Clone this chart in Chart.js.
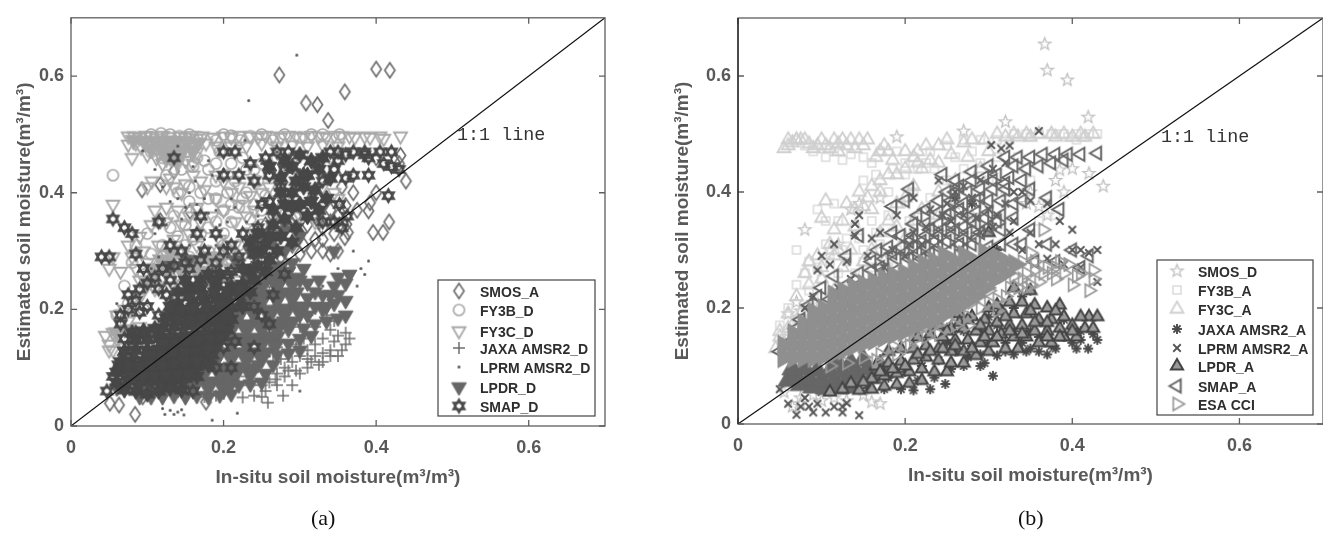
<!DOCTYPE html>
<html>
<head>
<meta charset="utf-8">
<title>Soil moisture scatter</title>
<script src="https://cdn.jsdelivr.net/npm/chart.js@4"></script>
<style>
html, body { margin: 0; padding: 0; background: #fff; overflow: hidden; }
.wrap { position: absolute; top: 0; height: 535px; }
.cap { position: absolute; top: 505px; font: 22px "Liberation Serif", serif; color: #111; }
</style>
</head>
<body>
<div class="wrap" style="left:0;width:660px"><canvas id="chartA" width="660" height="535"></canvas></div>
<div class="wrap" style="left:660px;width:700px"><canvas id="chartB" width="700" height="535"></canvas></div>
<div class="cap" style="left:311px">(a)</div>
<div class="cap" style="left:1018px">(b)</div>
<script>
// axis
var tickValues = [0, 0.2, 0.4, 0.6];
var tickLabels = ["0", "0.2", "0.4", "0.6"];
var xTitle = "In-situ soil moisture(m³/m³)";
var yTitle = "Estimated soil moisture(m³/m³)";
var oneToOne = [[0, 0], [0.7, 0.7]];

// panel (a)
var smosA = [[.273,.602],[.308,.554],[.323,.551],[.337,.524],[.40,.612],[.418,.61],[.359,.573],[.432,.464],[.439,.42],[.392,.383],[.39,.369],[.417,.35],[.409,.332],[.396,.332],[.361,.346],[.363,.332],[.359,.323],[.36,.378],[.051,.039],[.063,.036],[.084,.02],[.177,.041],[.094,.05],[.093,.405],[.117,.414],[.135,.437],[.156,.368],[.117,.352],[.33,.30],[.345,.44],[.43,.45],[.40,.40],[.375,.37],[.35,.36],[.34,.35],[.33,.38],[.32,.36],[.31,.345],[.30,.33],[.29,.31],[.28,.335],[.27,.32],[.26,.30],[.255,.345],[.265,.36],[.285,.365],[.30,.38],[.315,.39],[.33,.34],[.345,.33],[.35,.30],[.34,.295],[.32,.32],[.305,.31],[.29,.345],[.275,.29],[.25,.27],[.24,.31],[.26,.25],[.37,.40],[.355,.41],[.31,.44],[.40,.46],[.31,.36],[.325,.35],[.34,.37],[.352,.345],[.295,.36],[.28,.35],[.27,.345],[.30,.295],[.315,.30],[.33,.32]];
var fy3bD = [[.105,.50],[.118,.502],[.13,.50],[.142,.497],[.155,.50],[.17,.495],[.19,.49],[.20,.50],[.21,.498],[.222,.49],[.235,.497],[.25,.50],[.265,.49],[.28,.50],[.30,.495],[.315,.50],[.33,.50],[.352,.50],[.055,.43],[.105,.47],[.12,.46],[.135,.455],[.15,.47],[.165,.46],[.18,.44],[.145,.44],[.125,.43],[.195,.47],[.21,.45],[.225,.46],[.24,.44],[.19,.42],[.205,.40],[.215,.42],[.23,.40],[.245,.42],[.26,.43],[.28,.44],[.20,.37],[.22,.375],[.235,.355],[.25,.37],[.265,.385],[.18,.39],[.165,.37],[.15,.345],[.135,.36],[.115,.35],[.10,.33],[.085,.31],[.105,.295],[.12,.31],[.14,.325],[.16,.32],[.18,.34],[.20,.33],[.22,.31],[.24,.335],[.26,.33],[.08,.28],[.095,.26],[.115,.275],[.135,.285],[.155,.29],[.175,.28],[.195,.30],[.07,.24],[.09,.23],[.11,.24],[.13,.255],[.15,.25],[.17,.25],[.06,.19],[.075,.21],[.095,.20],[.16,.445],[.175,.455],[.19,.45],[.205,.43],[.23,.44],[.25,.45],[.27,.46],[.29,.46],[.17,.40],[.155,.41],[.14,.40],[.19,.39],[.21,.38],[.225,.39],[.24,.38],[.255,.395],[.155,.385],[.13,.34],[.15,.31],[.17,.33],[.19,.35],[.21,.35],[.23,.33],[.25,.345],[.12,.29],[.14,.30],[.16,.275],[.18,.30],[.20,.31]];
var fy3cD = [[.075,.497],[.083,.497],[.09,.495],[.098,.498],[.105,.497],[.112,.494],[.12,.498],[.128,.496],[.135,.49],[.143,.497],[.15,.495],[.158,.498],[.165,.493],[.172,.497],[.187,.495],[.2,.497],[.21,.495],[.22,.498],[.235,.497],[.245,.495],[.255,.498],[.265,.497],[.275,.495],[.285,.498],[.295,.497],[.305,.495],[.315,.498],[.325,.497],[.335,.495],[.345,.498],[.355,.497],[.365,.497],[.372,.495],[.385,.497],[.392,.495],[.405,.497],[.41,.493],[.432,.497],[.075,.483],[.08,.46],[.092,.478],[.105,.485],[.115,.47],[.125,.48],[.135,.475],[.145,.47],[.155,.48],[.13,.46],[.15,.455],[.165,.47],[.177,.485],[.19,.48],[.21,.48],[.23,.48],[.25,.485],[.27,.48],[.29,.482],[.31,.48],[.33,.482],[.35,.48],[.37,.47],[.055,.38],[.106,.42],[.13,.425],[.10,.41],[.135,.41],[.145,.40],[.16,.43],[.17,.42],[.19,.43],[.2,.42],[.22,.41],[.24,.42],[.25,.40],[.26,.41],[.11,.37],[.125,.375],[.14,.37],[.155,.36],[.17,.35],[.185,.36],[.2,.37],[.215,.35],[.23,.36],[.09,.325],[.075,.31],[.08,.29],[.055,.29],[.065,.265],[.05,.27],[.095,.30],[.115,.31],[.135,.32],[.155,.33],[.175,.30],[.195,.32],[.215,.31],[.235,.30],[.255,.32],[.11,.27],[.13,.28],[.15,.27],[.17,.26],[.19,.27],[.21,.28],[.23,.27],[.09,.25],[.11,.235],[.13,.24],[.15,.23],[.07,.20],[.09,.22],[.06,.19],[.05,.14],[.055,.16],[.07,.165],[.09,.17],[.06,.15],[.08,.15],[.055,.13],[.07,.135],[.33,.41],[.345,.40],[.35,.39],[.31,.38],[.30,.36],[.32,.35],[.28,.39],[.27,.37],[.085,.485],[.10,.465],[.112,.46],[.14,.45],[.12,.45],[.16,.45],[.125,.41],[.15,.415],[.175,.405],[.21,.40],[.235,.395],[.125,.35],[.145,.345],[.165,.375],[.19,.39],[.22,.38],[.24,.37],[.105,.345],[.125,.295],[.145,.30],[.165,.31],[.185,.29],[.205,.30],[.225,.29],[.1,.28],[.12,.255],[.14,.26],[.16,.25],[.18,.255],[.2,.26],[.085,.27],[.105,.25],[.125,.225],[.14,.22],[.16,.22],[.18,.235],[.2,.24],[.22,.25],[.075,.18],[.08,.215],[.065,.175],[.045,.155],[.05,.13],[.28,.45],[.3,.43],[.32,.45],[.34,.46]];
// the solid wedge under the 0.5 ceiling and the grey patch around (0.15, 0.27)
var fy3cSolidD = [[.082,.49],[.096,.488],[.11,.488],[.124,.488],[.138,.487],[.152,.488],[.166,.485],[.105,.475],[.119,.474],[.133,.472],[.147,.474],[.16,.472],[.125,.46],[.14,.458],[.105,.27],[.118,.285],[.132,.295],[.148,.285],[.165,.28],[.18,.29],[.195,.285],[.21,.27],[.125,.265],[.145,.265],[.165,.265],[.185,.265],[.205,.255],[.10,.245],[.075,.165],[.06,.16]];
var jaxaD = [[.225,.049],[.24,.052],[.258,.04],[.25,.05],[.278,.052],[.27,.07],[.29,.07],[.30,.09],[.31,.10],[.32,.12],[.29,.11],[.28,.10],[.33,.15],[.34,.13],[.36,.14],[.35,.155],[.365,.15],[.345,.145],[.33,.125],[.355,.13],[.31,.13],[.30,.12],[.32,.14],[.34,.165],[.36,.16],[.27,.09],[.26,.075],[.25,.07],[.235,.07],[.28,.085],[.295,.095],[.315,.11],[.33,.11],[.35,.12],[.305,.15],[.295,.14],[.32,.17],[.345,.18],[.335,.19],[.31,.19],[.30,.17],[.275,.115],[.265,.11],[.285,.13],[.27,.135],[.26,.13],[.25,.12],[.24,.10],[.23,.085],[.22,.07],[.21,.06],[.20,.055],[.19,.052],[.175,.05],[.325,.105],[.34,.12],[.285,.095],[.255,.06],[.268,.08],[.31,.115]];
var lprmD = [[.296,.636],[.233,.558],[.228,.49],[.18,.455],[.14,.48],[.094,.472],[.11,.44],[.163,.42],[.175,.39],[.14,.39],[.15,.375],[.19,.37],[.21,.39],[.17,.35],[.205,.35],[.22,.33],[.125,.345],[.13,.32],[.155,.31],[.19,.31],[.245,.36],[.24,.33],[.13,.30],[.17,.29],[.205,.29],[.225,.28],[.105,.27],[.12,.26],[.14,.24],[.165,.25],[.08,.23],[.06,.21],[.07,.12],[.08,.19],[.38,.27],[.39,.283],[.385,.26],[.375,.24],[.123,.02],[.13,.027],[.135,.02],[.14,.024],[.145,.028],[.148,.019],[.185,.01],[.218,.022],[.30,.06],[.12,.03],[.26,.12],[.31,.21],[.33,.24],[.35,.27],[.37,.30],[.28,.40],[.30,.44],[.25,.45],[.27,.47],[.31,.47],[.20,.44],[.185,.43],[.12,.41],[.13,.385],[.155,.40],[.18,.365],[.195,.345],[.215,.375],[.23,.35],[.145,.355],[.16,.335],[.175,.32],[.20,.31],[.15,.285],[.185,.27],[.115,.29],[.24,.29],[.16,.445],[.21,.47],[.165,.38],[.11,.33]];
var lpdrCoreD = [[.10,.072],[.12,.07],[.14,.072],[.16,.07],[.18,.072],[.20,.07],[.21,.082],[.075,.09],[.095,.095],[.115,.095],[.135,.097],[.155,.095],[.175,.097],[.195,.095],[.215,.097],[.235,.095],[.11,.12],[.13,.12],[.15,.12],[.17,.122],[.19,.12],[.21,.122],[.23,.12],[.25,.122],[.13,.145],[.15,.145],[.17,.147],[.19,.145],[.21,.147],[.23,.145],[.25,.147],[.265,.15],[.17,.17],[.19,.17],[.21,.172],[.23,.17],[.25,.172],[.27,.172],[.285,.175],[.20,.195],[.22,.195],[.24,.197],[.26,.195],[.28,.197],[.30,.20],[.23,.22],[.25,.22],[.27,.222],[.29,.225],[.25,.245],[.27,.245],[.29,.25],[.27,.27]];
var lpdrD = [[.09,.05],[.105,.05],[.12,.05],[.135,.052],[.15,.05],[.165,.052],[.18,.05],[.195,.053],[.21,.055],[.22,.07],[.235,.072],[.25,.075],[.255,.09],[.245,.105],[.265,.105],[.27,.122],[.285,.125],[.30,.13],[.27,.14],[.285,.142],[.30,.15],[.315,.155],[.305,.168],[.32,.175],[.335,.18],[.35,.185],[.36,.19],[.31,.19],[.33,.20],[.345,.21],[.36,.215],[.345,.24],[.36,.245],[.365,.26],[.35,.255],[.33,.225],[.32,.23],[.30,.205],[.31,.245],[.30,.25],[.305,.27],[.29,.28],[.28,.30],[.23,.25],[.235,.30],[.155,.285],[.25,.33],[.30,.325],[.345,.30],[.10,.16],[.06,.065],[.075,.08],[.32,.205],[.34,.225],[.325,.25],[.31,.22],[.335,.205],[.35,.225],[.285,.265],[.13,.275],[.185,.25],[.265,.32],[.28,.335],[.24,.27],[.215,.285]];
var smapCoreD = [[.07,.062],[.085,.06],[.10,.055],[.115,.06],[.13,.065],[.145,.062],[.06,.075],[.075,.078],[.09,.076],[.105,.077],[.12,.08],[.135,.08],[.15,.082],[.165,.085],[.06,.092],[.075,.095],[.09,.093],[.105,.095],[.12,.097],[.135,.098],[.15,.10],[.165,.102],[.18,.105],[.065,.11],[.08,.112],[.095,.112],[.11,.113],[.125,.114],[.14,.116],[.155,.118],[.17,.12],[.185,.122],[.07,.128],[.085,.13],[.10,.13],[.115,.132],[.13,.134],[.145,.134],[.16,.137],[.175,.14],[.19,.142],[.085,.147],[.10,.148],[.115,.15],[.13,.152],[.145,.153],[.16,.155],[.175,.157],[.19,.16],[.205,.165],[.12,.168],[.135,.17],[.15,.172],[.165,.175],[.18,.177],[.195,.18],[.21,.183],[.135,.19],[.15,.192],[.165,.194],[.18,.197],[.195,.20],[.21,.203],[.225,.205],[.14,.21],[.16,.213],[.175,.215],[.19,.218],[.205,.22],[.22,.222],[.235,.23],[.21,.24],[.225,.243],[.24,.25],[.255,.265],[.245,.275],[.26,.285],[.235,.265],[.27,.30],[.255,.31],[.275,.325],[.29,.315],[.265,.345],[.28,.355],[.295,.34],[.31,.36],[.30,.38],[.315,.385],[.325,.37],[.29,.40],[.305,.41],[.32,.405],[.335,.39],[.31,.43],[.325,.44],[.34,.425],[.315,.455],[.33,.46],[.29,.445],[.30,.465],[.25,.30],[.24,.295],[.26,.325],[.245,.33],[.235,.315],[.28,.38],[.265,.37],[.275,.40],[.29,.375],[.305,.43],[.275,.425],[.26,.445],[.28,.455],[.295,.42],[.225,.27],[.14,.23],[.155,.235],[.17,.235],[.13,.205],[.15,.25],[.17,.25],[.19,.24],[.195,.26],[.18,.26],[.11,.167],[.095,.163],[.08,.16],[.125,.185],[.14,.182],[.155,.183],[.172,.186],[.188,.188],[.205,.193],[.145,.20],[.16,.203],[.178,.206],[.195,.21],[.155,.222],[.172,.225],[.188,.23],[.205,.232],[.22,.235],[.12,.143],[.137,.143],[.152,.145],[.168,.147],[.183,.15],[.198,.153],[.105,.122],[.12,.123],[.135,.125],[.15,.127],[.165,.128],[.18,.132],[.075,.103],[.09,.103],[.105,.104],[.12,.105],[.135,.107],[.15,.109],[.165,.111],[.08,.085],[.095,.085],[.11,.086],[.125,.088],[.14,.09],[.155,.091]];
var smapD = [[.047,.06],[.055,.085],[.062,.105],[.08,.138],[.085,.16],[.115,.19],[.10,.205],[.125,.225],[.115,.235],[.095,.27],[.13,.25],[.165,.24],[.19,.245],[.205,.26],[.24,.205],[.25,.19],[.26,.175],[.20,.135],[.215,.145],[.19,.10],[.21,.10],[.16,.06],[.24,.135],[.265,.225],[.28,.26],[.04,.29],[.05,.29],[.08,.33],[.07,.34],[.055,.355],[.115,.35],[.13,.31],[.17,.36],[.19,.33],[.175,.30],[.135,.46],[.2,.47],[.215,.47],[.2,.43],[.22,.43],[.235,.45],[.24,.42],[.27,.47],[.285,.47],[.255,.46],[.26,.43],[.28,.44],[.275,.41],[.25,.38],[.26,.385],[.245,.34],[.225,.33],[.24,.31],[.21,.31],[.35,.47],[.36,.465],[.37,.47],[.385,.47],[.34,.47],[.35,.455],[.39,.46],[.405,.47],[.41,.45],[.42,.445],[.43,.44],[.345,.44],[.36,.425],[.37,.43],[.39,.43],[.352,.38],[.362,.36],[.345,.35],[.355,.34],[.33,.35],[.416,.395],[.33,.42],[.385,.465],[.42,.47],[.065,.19],[.075,.20],[.09,.195],[.085,.215],[.075,.225],[.09,.235],[.10,.245],[.11,.255],[.12,.27],[.135,.275],[.15,.28],[.085,.295],[.065,.175],[.07,.15],[.155,.27],[.17,.285],[.19,.28],[.21,.265],[.22,.29],[.20,.30],[.165,.33],[.145,.30]];

// panel (b)
var smosD = [[.367,.655],[.37,.61],[.394,.593],[.419,.529],[.32,.521],[.437,.41],[.42,.432],[.40,.44],[.385,.438],[.38,.42],[.39,.40],[.35,.40],[.36,.375],[.37,.36],[.345,.38],[.27,.505],[.19,.495],[.17,.39],[.135,.37],[.145,.38],[.08,.335],[.11,.30],[.12,.31],[.09,.21],[.075,.195],[.06,.19],[.07,.21],[.085,.07],[.10,.04],[.13,.04],[.16,.038],[.17,.035],[.065,.03],[.075,.035],[.055,.055],[.24,.33],[.26,.38],[.28,.36],[.09,.05],[.075,.045],[.115,.045],[.15,.05]];
var fy3bA = [[.07,.49],[.09,.47],[.105,.46],[.125,.455],[.15,.46],[.17,.47],[.19,.47],[.21,.46],[.23,.47],[.25,.48],[.27,.49],[.29,.49],[.31,.49],[.33,.50],[.345,.50],[.36,.50],[.375,.50],[.39,.50],[.405,.50],[.42,.50],[.43,.50],[.405,.49],[.335,.46],[.345,.44],[.35,.42],[.31,.46],[.29,.45],[.27,.44],[.25,.42],[.235,.44],[.215,.44],[.20,.43],[.18,.40],[.165,.43],[.15,.42],[.115,.38],[.095,.37],[.105,.35],[.12,.35],[.14,.34],[.16,.35],[.18,.36],[.21,.40],[.23,.39],[.07,.30],[.085,.28],[.105,.31],[.125,.30],[.15,.30],[.17,.31],[.19,.30],[.21,.33],[.23,.34],[.06,.20],[.07,.18],[.085,.20],[.10,.25],[.12,.26],[.14,.26],[.16,.27],[.18,.27],[.30,.42],[.32,.40],[.37,.38],[.36,.35],[.38,.36],[.08,.48],[.10,.475],[.115,.47],[.135,.465],[.16,.45],[.185,.44],[.20,.45],[.225,.45],[.26,.46],[.28,.47],[.13,.32],[.145,.32],[.165,.33],[.185,.33],[.205,.35],[.195,.38],[.08,.26],[.095,.27],[.11,.28],[.13,.28],[.15,.28],[.07,.24],[.085,.23],[.10,.22],[.125,.235],[.05,.17],[.065,.155],[.38,.50],[.395,.495],[.415,.495],[.35,.495],[.325,.49]];
var fy3cA = [[.055,.475],[.06,.49],[.07,.49],[.075,.49],[.085,.483],[.095,.48],[.10,.49],[.115,.49],[.12,.483],[.125,.49],[.135,.49],[.145,.49],[.155,.49],[.17,.47],[.175,.48],[.18,.47],[.20,.47],[.215,.47],[.225,.48],[.24,.48],[.25,.49],[.27,.485],[.28,.49],[.295,.49],[.31,.50],[.33,.50],[.345,.50],[.36,.50],[.375,.50],[.39,.50],[.41,.50],[.425,.50],[.20,.44],[.22,.44],[.24,.45],[.215,.45],[.275,.46],[.30,.47],[.16,.41],[.17,.42],[.18,.43],[.19,.43],[.21,.41],[.105,.385],[.13,.38],[.14,.37],[.15,.375],[.16,.37],[.19,.38],[.10,.355],[.115,.335],[.18,.35],[.21,.35],[.11,.31],[.12,.30],[.15,.28],[.16,.30],[.17,.33],[.20,.32],[.085,.28],[.095,.29],[.125,.27],[.14,.25],[.175,.28],[.07,.22],[.085,.24],[.10,.25],[.115,.23],[.06,.19],[.075,.19],[.085,.18],[.05,.16],[.055,.14],[.065,.17],[.24,.40],[.26,.42],[.29,.44],[.06,.48],[.065,.485],[.08,.49],[.09,.475],[.105,.48],[.11,.475],[.13,.48],[.14,.475],[.15,.48],[.12,.47],[.165,.46],[.185,.455],[.21,.46],[.23,.455],[.255,.465],[.32,.495],[.335,.495],[.35,.495],[.38,.495],[.40,.495],[.415,.495],[.145,.40],[.155,.39],[.17,.40],[.20,.39],[.125,.35],[.14,.34],[.19,.34],[.22,.37],[.24,.36],[.08,.26],[.10,.27],[.115,.29],[.135,.30],[.06,.165],[.05,.15],[.045,.13],[.07,.16]];
var jaxaA = [[.43,.145],[.419,.13],[.305,.083],[.248,.069],[.23,.06],[.195,.06],[.21,.058],[.175,.06],[.155,.062],[.27,.10],[.29,.12],[.31,.118],[.33,.12],[.35,.13],[.37,.12],[.38,.13],[.40,.14],[.41,.145],[.425,.155],[.39,.15],[.36,.15],[.34,.14],[.32,.14],[.30,.14],[.28,.135],[.26,.125],[.24,.11],[.22,.10],[.20,.09],[.18,.08],[.25,.14],[.27,.16],[.29,.16],[.31,.17],[.33,.16],[.35,.16],[.37,.17],[.39,.18],[.41,.16],[.30,.185],[.34,.22],[.35,.23],[.33,.20],[.29,.25],[.26,.22],[.31,.30],[.28,.38],[.26,.39],[.29,.10],[.255,.095],[.235,.08],[.215,.075],[.32,.125],[.345,.125],[.375,.135],[.405,.13],[.295,.105],[.36,.125],[.275,.115]];
var lprmA = [[.36,.505],[.325,.48],[.315,.475],[.303,.481],[.07,.016],[.09,.02],[.105,.02],[.115,.03],[.085,.03],[.095,.035],[.075,.03],[.145,.015],[.125,.03],[.13,.036],[.05,.06],[.10,.055],[.08,.045],[.14,.345],[.14,.325],[.255,.35],[.29,.42],[.305,.44],[.28,.39],[.32,.45],[.33,.40],[.34,.40],[.35,.385],[.37,.38],[.385,.35],[.40,.335],[.43,.30],[.42,.295],[.41,.27],[.39,.275],[.37,.285],[.43,.245],[.145,.36],[.115,.31],[.10,.29],[.095,.265],[.11,.275],[.16,.32],[.17,.33],[.13,.28],[.185,.30],[.21,.33],[.19,.36],[.21,.39],[.23,.37],[.25,.38],[.27,.36],[.29,.33],[.31,.36],[.33,.35],[.35,.33],[.36,.31],[.38,.31],[.40,.30],[.34,.30],[.09,.22],[.08,.20],[.095,.19],[.41,.30],[.27,.41],[.24,.42],[.26,.40],[.245,.36],[.225,.34],[.205,.31],[.175,.27],[.155,.29],[.135,.25],[.12,.235],[.30,.37],[.32,.38],[.285,.355],[.305,.34],[.325,.33],[.125,.02],[.06,.035],[.20,.29],[.22,.31]];
var lpdrCoreA = [[.06,.075],[.075,.068],[.09,.064],[.105,.062],[.12,.062],[.135,.064],[.07,.08],[.085,.078],[.10,.075],[.115,.075],[.13,.075],[.145,.078],[.16,.08],[.065,.095],[.08,.095],[.095,.092],[.11,.09],[.125,.09],[.14,.09],[.155,.095],[.17,.10],[.12,.105],[.135,.105],[.15,.11]];
var lpdrA = [[.11,.055],[.125,.06],[.145,.058],[.16,.06],[.175,.065],[.19,.068],[.205,.07],[.22,.075],[.16,.078],[.175,.083],[.19,.087],[.205,.09],[.22,.095],[.235,.09],[.25,.09],[.165,.10],[.18,.105],[.195,.108],[.21,.11],[.225,.115],[.24,.11],[.255,.105],[.27,.105],[.18,.125],[.195,.13],[.21,.13],[.225,.135],[.24,.13],[.255,.125],[.27,.125],[.285,.118],[.30,.125],[.215,.15],[.23,.155],[.245,.15],[.26,.145],[.275,.145],[.29,.14],[.305,.14],[.32,.13],[.335,.13],[.24,.17],[.255,.165],[.27,.165],[.285,.16],[.30,.16],[.315,.155],[.33,.15],[.345,.15],[.36,.14],[.375,.14],[.39,.15],[.405,.15],[.415,.165],[.425,.165],[.265,.19],[.28,.185],[.295,.18],[.31,.175],[.325,.17],[.34,.17],[.355,.16],[.37,.16],[.385,.165],[.40,.17],[.42,.185],[.43,.185],[.41,.185],[.30,.20],[.315,.195],[.33,.19],[.345,.19],[.36,.18],[.375,.18],[.39,.185],[.325,.21],[.34,.21],[.355,.205],[.37,.20],[.385,.205],[.33,.235],[.35,.23],[.37,.175],[.30,.33],[.135,.07],[.15,.072],[.17,.09],[.185,.095],[.20,.10],[.215,.12],[.23,.125],[.245,.13],[.26,.135],[.28,.13],[.295,.15],[.31,.15],[.325,.16],[.34,.155],[.355,.175],[.37,.15],[.385,.15],[.40,.16],[.25,.16],[.265,.175],[.29,.17],[.32,.185],[.35,.195],[.38,.195],[.275,.18],[.31,.205]];
var smapA = [[.085,.205],[.10,.235],[.095,.22],[.115,.255],[.13,.29],[.145,.325],[.167,.30],[.185,.33],[.185,.375],[.20,.385],[.205,.405],[.245,.43],[.26,.42],[.28,.435],[.30,.445],[.32,.46],[.335,.46],[.35,.46],[.365,.465],[.38,.465],[.395,.465],[.41,.465],[.43,.467],[.33,.445],[.345,.44],[.36,.445],[.375,.45],[.39,.455],[.28,.42],[.295,.425],[.31,.43],[.325,.425],[.34,.42],[.35,.405],[.37,.39],[.385,.37],[.34,.385],[.26,.40],[.275,.40],[.29,.405],[.305,.405],[.32,.405],[.24,.385],[.255,.385],[.27,.38],[.285,.385],[.30,.385],[.315,.385],[.33,.38],[.225,.37],[.24,.365],[.255,.365],[.27,.36],[.285,.365],[.30,.365],[.315,.36],[.33,.355],[.21,.345],[.225,.345],[.24,.345],[.255,.345],[.27,.34],[.285,.345],[.30,.34],[.315,.335],[.195,.325],[.21,.325],[.225,.325],[.24,.325],[.255,.325],[.27,.32],[.285,.32],[.18,.305],[.195,.305],[.21,.305],[.225,.305],[.24,.305],[.255,.30],[.16,.28],[.175,.285],[.19,.285],[.205,.285],[.22,.285],[.145,.26],[.16,.265],[.175,.265],[.19,.265],[.13,.24],[.145,.24],[.16,.245],[.11,.215],[.125,.22],[.14,.225],[.35,.335],[.37,.31],[.40,.30],[.42,.29],[.41,.27],[.34,.31],[.30,.305],[.33,.31],[.38,.28],[.355,.28],[.27,.30],[.315,.31],[.25,.40],[.265,.41],[.29,.39],[.305,.42],[.32,.415],[.25,.36],[.265,.37],[.28,.35],[.295,.355],[.31,.35],[.215,.36],[.23,.335],[.245,.335],[.26,.335],[.275,.33],[.29,.33],[.205,.315],[.22,.315],[.235,.315],[.25,.315],[.265,.31],[.28,.31],[.17,.27],[.185,.295],[.2,.295],[.215,.295],[.23,.295],[.075,.18],[.07,.165],[.06,.14],[.05,.125]];
var esaCoreA = [[.055,.115],[.055,.135],[.067,.115],[.067,.135],[.067,.155],[.079,.115],[.079,.135],[.079,.155],[.079,.172],[.091,.115],[.091,.135],[.091,.155],[.091,.175],[.091,.192],[.103,.118],[.103,.138],[.103,.158],[.103,.178],[.103,.198],[.115,.122],[.115,.142],[.115,.162],[.115,.182],[.115,.202],[.115,.222],[.127,.128],[.127,.148],[.127,.168],[.127,.188],[.127,.208],[.127,.228],[.139,.135],[.139,.155],[.139,.175],[.139,.195],[.139,.215],[.139,.235],[.151,.14],[.151,.16],[.151,.18],[.151,.20],[.151,.22],[.151,.24],[.163,.145],[.163,.165],[.163,.185],[.163,.205],[.163,.225],[.163,.245],[.175,.15],[.175,.17],[.175,.19],[.175,.21],[.175,.23],[.175,.25],[.187,.155],[.187,.175],[.187,.195],[.187,.215],[.187,.235],[.187,.255],[.199,.16],[.199,.18],[.199,.20],[.199,.22],[.199,.24],[.199,.26],[.211,.168],[.211,.188],[.211,.208],[.211,.228],[.211,.248],[.211,.268],[.223,.175],[.223,.195],[.223,.215],[.223,.235],[.223,.255],[.223,.275],[.235,.18],[.235,.20],[.235,.22],[.235,.24],[.235,.26],[.235,.28],[.247,.19],[.247,.21],[.247,.23],[.247,.25],[.247,.27],[.247,.29],[.259,.20],[.259,.22],[.259,.24],[.259,.26],[.259,.28],[.271,.21],[.271,.23],[.271,.25],[.271,.27],[.271,.29],[.283,.22],[.283,.24],[.283,.26],[.283,.28],[.295,.235],[.295,.255],[.295,.275],[.295,.295],[.307,.25],[.307,.27],[.307,.29],[.319,.26],[.319,.28],[.331,.275]];
var esaCci = [[.19,.12],[.205,.135],[.225,.15],[.24,.155],[.26,.17],[.275,.185],[.29,.20],[.31,.215],[.325,.235],[.34,.25],[.355,.265],[.37,.27],[.385,.28],[.395,.275],[.41,.26],[.425,.25],[.42,.23],[.40,.24],[.38,.25],[.36,.245],[.345,.26],[.33,.255],[.35,.295],[.365,.335],[.34,.28],[.375,.26],[.30,.23],[.28,.21],[.25,.18],[.21,.145],[.17,.12],[.15,.115],[.13,.105],[.11,.10],[.165,.11],[.185,.135],[.20,.15],[.22,.165],[.235,.17],[.25,.195],[.265,.20],[.285,.225],[.30,.21],[.32,.22],[.335,.235],[.35,.24],[.365,.26],[.39,.26],[.405,.255],[.355,.28],[.38,.27],[.345,.235],[.425,.265],[.31,.195],[.275,.17]];

// marker shapes are drawn once on little canvases and handed to Chart.js as pointStyle
function makeMarker(kind, stroke, size, lineW, fill) {
    var box = size + 6;
    var c = document.createElement("canvas");
    c.width = box;
    c.height = box;
    var g = c.getContext("2d");
    var m = box / 2, r = size / 2;
    g.strokeStyle = stroke;
    g.fillStyle = fill || stroke;
    g.lineWidth = lineW;
    g.lineJoin = "miter";
    function poly(pts, closed) {
        g.beginPath();
        for (var i = 0; i < pts.length; i++) {
            if (i == 0) g.moveTo(m + pts[i][0], m + pts[i][1]);
            else g.lineTo(m + pts[i][0], m + pts[i][1]);
        }
        if (closed) g.closePath();
        if (fill) g.fill();
        g.stroke();
    }
    function ring(n, start, rad) {
        var out = [];
        for (var i = 0; i < n; i++) {
            var a = start + i * 2 * Math.PI / n;
            out.push([rad * Math.cos(a), rad * Math.sin(a)]);
        }
        return out;
    }
    if (kind == "diamond") poly([[0, -r], [r * 0.68, 0], [0, r], [-r * 0.68, 0]], true);
    if (kind == "circle") { g.beginPath(); g.arc(m, m, r, 0, 2 * Math.PI); g.stroke(); }
    if (kind == "dot") { g.beginPath(); g.arc(m, m, r, 0, 2 * Math.PI); g.fill(); }
    if (kind == "down") poly(ring(3, Math.PI / 2, r), true);
    if (kind == "up") poly(ring(3, -Math.PI / 2, r), true);
    if (kind == "left") poly(ring(3, Math.PI, r), true);
    if (kind == "right") poly(ring(3, 0, r), true);
    if (kind == "square") poly([[-r, -r], [r, -r], [r, r], [-r, r]], true);
    if (kind == "plus") { poly([[-r, 0], [r, 0]]); poly([[0, -r], [0, r]]); }
    if (kind == "cross") { var k = r * 0.75; poly([[-k, -k], [k, k]]); poly([[-k, k], [k, -k]]); }
    if (kind == "asterisk") {
        poly([[-r, 0], [r, 0]]); poly([[0, -r], [0, r]]);
        var q = r * 0.72;
        poly([[-q, -q], [q, q]]); poly([[-q, q], [q, -q]]);
    }
    if (kind == "hexagram") { poly(ring(3, -Math.PI / 2, r), true); poly(ring(3, Math.PI / 2, r), true); }
    if (kind == "star") {
        var pts = [];
        for (var i = 0; i < 10; i++) {
            var a = -Math.PI / 2 + i * Math.PI / 5;
            var rr = i % 2 == 0 ? r : r * 0.42;
            pts.push([rr * Math.cos(a), rr * Math.sin(a)]);
        }
        poly(pts, true);
    }
    return c;
}

var seriesA = [
    { label: "SMOS_A", data: smosA, mark: makeMarker("diamond", "#6a6a6a", 15, 1.6), legendY: 291 },
    { label: "FY3B_D", data: fy3bD, mark: makeMarker("circle", "#a8a8a8", 11, 1.6), legendY: 310 },
    { data: fy3cSolidD, mark: makeMarker("down", "#a8a8a8", 20, 1, "#a8a8a8") },
    { label: "FY3C_D", data: fy3cD, mark: makeMarker("down", "#a8a8a8", 15, 1.8), legendY: 331 },
    { label: "JAXA AMSR2_D", data: jaxaD, mark: makeMarker("plus", "#6e6e6e", 12, 1.5), legendY: 348 },
    { label: "LPRM AMSR2_D", data: lprmD, mark: makeMarker("dot", "#555", 3), legendY: 367 },
    { data: lpdrCoreD, mark: makeMarker("down", "#666", 28, 1, "#666") },
    { label: "LPDR_D", data: lpdrD, mark: makeMarker("down", "#666", 17, 1, "#666"), legendY: 387 },
    { data: smapCoreD, mark: makeMarker("hexagram", "#474747", 17, 1, "#474747") },
    { label: "SMAP_D", data: smapD, mark: makeMarker("hexagram", "#474747", 13, 2), legendY: 406 }
];
var seriesB = [
    { label: "SMOS_D", data: smosD, mark: makeMarker("star", "#c0c0c0", 13, 1.3), legendY: 271 },
    { label: "FY3B_A", data: fy3bA, mark: makeMarker("square", "#dcdcdc", 8, 1.6), legendY: 290 },
    { label: "FY3C_A", data: fy3cA, mark: makeMarker("up", "#cfcfcf", 15, 1.8), legendY: 309 },
    { label: "JAXA AMSR2_A", data: jaxaA, mark: makeMarker("asterisk", "#4a4a4a", 10, 1.9), legendY: 329 },
    { label: "LPRM AMSR2_A", data: lprmA, mark: makeMarker("cross", "#555", 10, 1.8), legendY: 348 },
    { data: lpdrCoreA, mark: makeMarker("up", "#666", 24, 1, "#666") },
    { label: "LPDR_A", data: lpdrA, mark: makeMarker("up", "#444", 14, 2, "#9a9a9a"), legendY: 366 },
    { label: "SMAP_A", data: smapA, mark: makeMarker("left", "#666", 15, 2), legendY: 386 },
    { label: "ESA CCI", data: esaCci, mark: makeMarker("right", "#999", 15, 1.7), legendY: 404 },
    { data: esaCoreA, mark: makeMarker("right", "#8f8f8f", 24, 1, "#8f8f8f") }
];

// frame, inward ticks, legend box and the 1:1 note are all done here
var framePlugin = {
    id: "frame",
    afterDraw: function(chart, args, o) {
        var ctx = chart.ctx, a = chart.chartArea;
        var xs = chart.scales.x, ys = chart.scales.y;
        ctx.save();
        ctx.strokeStyle = "#5f5f5f";
        ctx.lineWidth = 1.3;
        ctx.strokeRect(a.left, a.top, a.right - a.left, a.bottom - a.top);
        ctx.beginPath();
        tickValues.forEach(function(v) {
            var px = xs.getPixelForValue(v), py = ys.getPixelForValue(v);
            ctx.moveTo(px, a.bottom); ctx.lineTo(px, a.bottom - 6);
            ctx.moveTo(px, a.top); ctx.lineTo(px, a.top + 6);
            ctx.moveTo(a.left, py); ctx.lineTo(a.left + 6, py);
            ctx.moveTo(a.right, py); ctx.lineTo(a.right - 6, py);
        });
        ctx.stroke();
        if (o.darkLeft) {
            ctx.strokeStyle = "#222";
            ctx.beginPath();
            ctx.moveTo(a.left, a.top);
            ctx.lineTo(a.left, a.bottom);
            ctx.stroke();
        }

        ctx.fillStyle = "#333";
        ctx.font = '18.4px "Liberation Mono", monospace';
        ctx.textBaseline = "middle";
        ctx.fillText("1:1 line", o.noteX, o.noteY);

        var b = o.box;
        ctx.fillStyle = "#fff";
        ctx.fillRect(b[0], b[1], b[2], b[3]);
        ctx.strokeStyle = "#444";
        ctx.lineWidth = 1.2;
        ctx.strokeRect(b[0], b[1], b[2], b[3]);
        ctx.font = 'bold 14px "Liberation Sans", Arial, sans-serif';
        ctx.fillStyle = "#2e2e2e";
        o.series.forEach(function(s) {
            if (!s.label) return;
            ctx.drawImage(s.mark, o.markX - s.mark.width / 2, s.legendY - s.mark.height / 2);
            ctx.fillText(s.label, o.textX, s.legendY + 2);
        });
        ctx.restore();
    }
};

function drawPanel(id, series, geom) {
    var datasets = series.map(function(s, i) {
        return {
            label: s.label || "",
            data: s.data,
            pointStyle: s.mark,
            pointRadius: 4,
            showLine: false,
            order: series.length - i + 1
        };
    });
    // 1:1 line sits on top of everything
    datasets.push({
        label: "1:1 line",
        data: oneToOne,
        showLine: true,
        pointRadius: 0,
        borderColor: "#111",
        borderWidth: 1.2,
        order: 0
    });
    new Chart(document.getElementById(id), {
        type: "scatter",
        data: { datasets: datasets },
        plugins: [framePlugin],
        options: {
            responsive: false,
            animation: false,
            layout: { padding: { top: geom.top, right: geom.right, left: 0, bottom: 0 } },
            plugins: {
                legend: { display: false },
                tooltip: { enabled: false },
                frame: geom.frame
            },
            scales: {
                x: {
                    type: "linear", min: 0, max: 0.7,
                    grid: { display: false, drawTicks: false },
                    border: { display: false },
                    afterFit: function(s) { s.height = geom.xHeight; },
                    afterBuildTicks: function(s) { s.ticks = tickValues.map(function(v) { return { value: v }; }); },
                    ticks: {
                        padding: 11, maxRotation: 0, autoSkip: false, color: "#595959",
                        font: { family: "Liberation Sans", weight: "bold", size: 18 },
                        callback: function(v) { return tickLabels[tickValues.indexOf(v)]; }
                    },
                    title: {
                        display: true, text: xTitle, color: "#595959",
                        font: { family: "Liberation Sans", weight: "bold", size: 19 },
                        padding: { bottom: geom.xTitlePad, top: 0 }
                    }
                },
                y: {
                    type: "linear", min: 0, max: 0.7,
                    grid: { display: false, drawTicks: false },
                    border: { display: false },
                    afterFit: function(s) { s.width = geom.yWidth; },
                    afterBuildTicks: function(s) { s.ticks = tickValues.map(function(v) { return { value: v }; }); },
                    ticks: {
                        padding: 7, autoSkip: false, color: "#595959",
                        font: { family: "Liberation Sans", weight: "bold", size: 18 },
                        callback: function(v) { return tickLabels[tickValues.indexOf(v)]; }
                    },
                    title: {
                        display: true, text: yTitle, color: "#595959",
                        font: { family: "Liberation Sans", weight: "bold", size: 19 },
                        padding: { top: geom.yTitlePad, bottom: 0 }
                    }
                }
            }
        }
    });
}

drawPanel("chartA", seriesA, {
    top: 13, right: 55, xHeight: 109, yWidth: 71, xTitlePad: 46, yTitlePad: 13,
    frame: { series: seriesA, box: [438, 280, 157, 136], markX: 459, textX: 480, noteX: 457, noteY: 135 }
});
drawPanel("chartB", seriesB, {
    top: 18, right: 37, xHeight: 111, yWidth: 78, xTitlePad: 48, yTitlePad: 11,
    frame: { series: seriesB, darkLeft: true, box: [497, 260, 156, 155], markX: 517, textX: 538, noteX: 501, noteY: 137 }
});
</script>
</body>
</html>
